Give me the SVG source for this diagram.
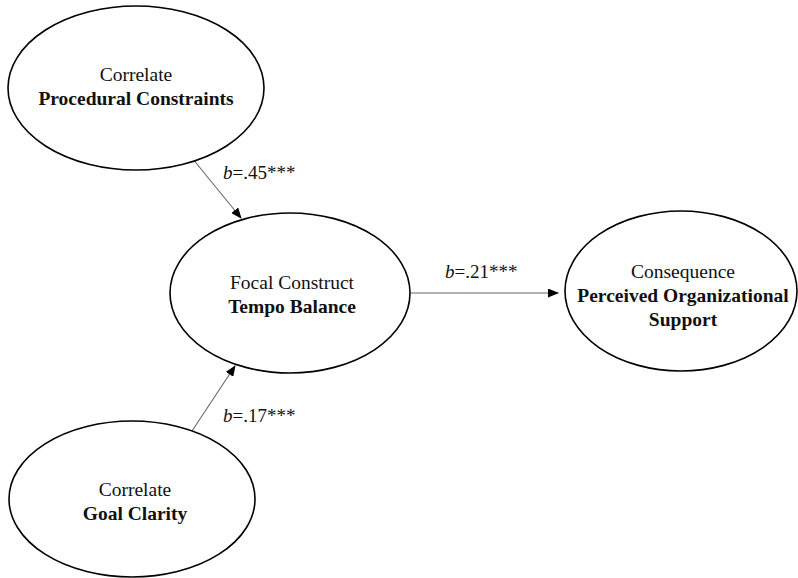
<svg xmlns="http://www.w3.org/2000/svg" width="798" height="578" viewBox="0 0 798 578">
  <defs>
    <marker id="arrow" markerWidth="11" markerHeight="9" refX="10" refY="4.5" orient="auto" markerUnits="userSpaceOnUse">
      <path d="M0,0 L11,4.5 L0,9 Z" fill="#000"/>
    </marker>
    <style>
      .node ellipse { fill: #fff; stroke: #000; stroke-width: 1.6; }
      .t { font-family: "Liberation Serif", "Times New Roman", serif; font-size: 19.5px; fill: #111; text-anchor: middle; }
      .b { font-weight: bold; }
      .edge { stroke: #666; stroke-width: 1.1; fill: none; marker-end: url(#arrow); }
      .lbl { font-family: "Liberation Serif", "Times New Roman", serif; font-size: 19px; fill: #111; }
    </style>
  </defs>

  <!-- connectors -->
  <g id="connectors">
    <line class="edge" x1="192" y1="158" x2="241" y2="218"/>
    <line class="edge" x1="192" y1="431" x2="235" y2="366"/>
    <line class="edge" x1="411" y1="293" x2="558" y2="293"/>
    <text class="lbl" x="223" y="179"><tspan font-style="italic">b</tspan>=.45***</text>
    <text class="lbl" x="445" y="278"><tspan font-style="italic">b</tspan>=.21***</text>
    <text class="lbl" x="223" y="422"><tspan font-style="italic">b</tspan>=.17***</text>
  </g>

  <!-- Correlate: Procedural Constraints -->
  <g id="node-procedural" class="node">
    <ellipse cx="136" cy="88" rx="128" ry="82"/>
    <text class="t" x="136" y="81">Correlate</text>
    <text class="t b" x="136" y="105">Procedural Constraints</text>
  </g>

  <!-- Focal Construct: Tempo Balance -->
  <g id="node-tempo" class="node">
    <ellipse cx="290" cy="293" rx="120" ry="80"/>
    <text class="t" x="292" y="289">Focal Construct</text>
    <text class="t b" x="292" y="313">Tempo Balance</text>
  </g>

  <!-- Consequence: Perceived Organizational Support -->
  <g id="node-support" class="node">
    <ellipse cx="681" cy="291" rx="116" ry="80"/>
    <text class="t" x="683" y="278">Consequence</text>
    <text class="t b" x="683" y="302">Perceived Organizational</text>
    <text class="t b" x="683" y="326">Support</text>
  </g>

  <!-- Correlate: Goal Clarity -->
  <g id="node-goal" class="node">
    <ellipse cx="132" cy="499" rx="123" ry="78"/>
    <text class="t" x="135" y="496">Correlate</text>
    <text class="t b" x="135" y="520">Goal Clarity</text>
  </g>
</svg>
